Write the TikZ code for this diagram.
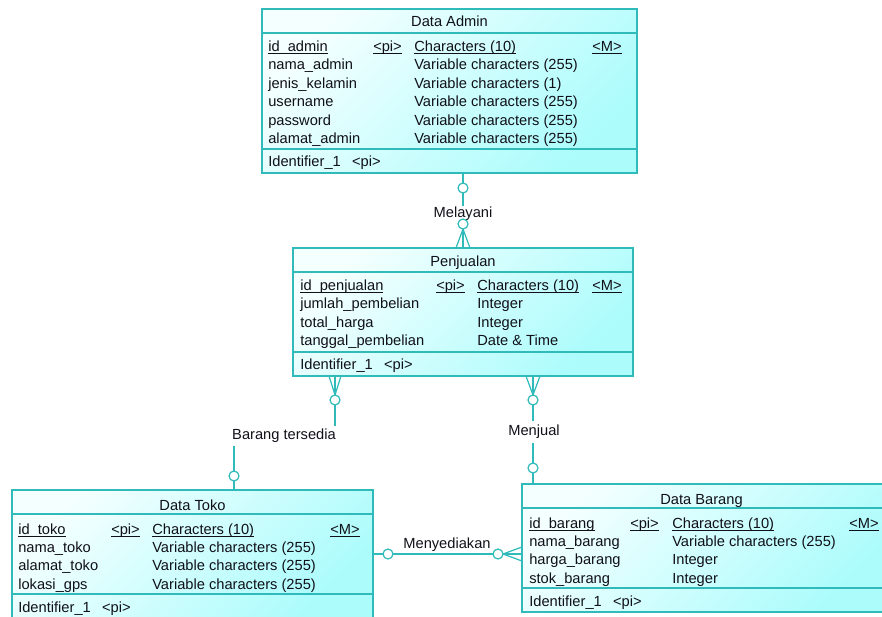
\documentclass[tikz,border=0pt]{standalone}
\usepackage{fontspec}
\setmainfont{Liberation Sans}

\newlength\pxu
\setlength\pxu{0.75pt}
\definecolor{entline}{RGB}{48,186,186}
\definecolor{enttop}{RGB}{244,255,255}
\definecolor{entbot}{RGB}{172,252,252}
\definecolor{enttext}{RGB}{16,16,24}
\newcommand\pk[1]{\underline{\smash{#1}}}

\begin{document}
\begin{tikzpicture}[x=0.75pt,y=-0.75pt,
	entity/.style={shape=rectangle,draw=entline,line width=1pt,inner sep=0pt,top color=enttop,bottom color=entbot,shading angle=45},
	sepline/.style={draw=entline,line width=1pt},
	conn/.style={draw=entline,line width=0.9pt},
	knob/.style={draw=entline,line width=0.9pt,fill=white},
	attr/.style={anchor=base west,inner sep=0pt},
	title/.style={anchor=base,inner sep=0pt},
	rel/.style={inner xsep=0pt,inner ysep=1pt},
	every node/.style={font=\fontsize{11pt}{13pt}\selectfont,text=enttext}]
	\useasboundingbox (0,0) rectangle (882,617);
	\clip (0,0) rectangle (882,617);

	\draw (449.5,91) node (admin) [entity,minimum width=375\pxu,minimum height=164\pxu] {};
	\draw (463,312) node (penjualan) [entity,minimum width=340\pxu,minimum height=128\pxu] {};
	\draw (192.5,554) node (toko) [entity,minimum width=361\pxu,minimum height=128\pxu] {};
	\draw (706,548) node (barang) [entity,minimum width=368\pxu,minimum height=128\pxu] {};

	\draw [sepline] (admin.west |- 0,33) -- (admin.east |- 0,33);
	\draw [sepline] (admin.west |- 0,149) -- (admin.east |- 0,149);
	\draw [sepline] (penjualan.west |- 0,272) -- (penjualan.east |- 0,272);
	\draw [sepline] (penjualan.west |- 0,352) -- (penjualan.east |- 0,352);
	\draw [sepline] (toko.west |- 0,514) -- (toko.east |- 0,514);
	\draw [sepline] (toko.west |- 0,594) -- (toko.east |- 0,594);
	\draw [sepline] (barang.west |- 0,508) -- (barang.east |- 0,508);
	\draw [sepline] (barang.west |- 0,588) -- (barang.east |- 0,588);

	\draw (449.5,26.5) node (admin-t) [title] {Data Admin};
	\draw (268,51.5) node (admin-k) [attr] {\pk{id\_admin}}
		(373,51.5) node (admin-kp) [attr] {\pk{<pi>}}
		(414,51.5) node (admin-kt) [attr] {\pk{Characters (10)}}
		(592,51.5) node (admin-km) [attr] {\pk{<M>}};
	\foreach \n/\t [count=\i] in {nama\_admin/Variable characters (255),jenis\_kelamin/Variable characters (1),username/Variable characters (255),password/Variable characters (255),alamat\_admin/Variable characters (255)} {
		\draw (268,51.5+18.4*\i) node (admin-a\i) [attr] {\n}
			(414,51.5+18.4*\i) node (admin-b\i) [attr] {\t};
	}
	\draw (268,166.5) node (admin-id) [attr] {Identifier\_1\hspace{8.5pt}<pi>};

	\draw (463,266.5) node (penjualan-t) [title] {Penjualan};
	\draw (300,290.5) node (penjualan-k) [attr] {\pk{id\_penjualan}}
		(436,290.5) node (penjualan-kp) [attr] {\pk{<pi>}}
		(477,290.5) node (penjualan-kt) [attr] {\pk{Characters (10)}}
		(592,290.5) node (penjualan-km) [attr] {\pk{<M>}};
	\foreach \n/\t [count=\i] in {jumlah\_pembelian/Integer,total\_harga/Integer,tanggal\_pembelian/Date \& Time} {
		\draw (300,290.5+18.4*\i) node (penjualan-a\i) [attr] {\n}
			(477,290.5+18.4*\i) node (penjualan-b\i) [attr] {\t};
	}
	\draw (300,369.5) node (penjualan-id) [attr] {Identifier\_1\hspace{8.5pt}<pi>};

	\draw (192.5,510) node (toko-t) [title] {Data Toko};
	\draw (18,534) node (toko-k) [attr] {\pk{id\_toko}}
		(111,534) node (toko-kp) [attr] {\pk{<pi>}}
		(152,534) node (toko-kt) [attr] {\pk{Characters (10)}}
		(330,534) node (toko-km) [attr] {\pk{<M>}};
	\foreach \n/\t [count=\i] in {nama\_toko/Variable characters (255),alamat\_toko/Variable characters (255),lokasi\_gps/Variable characters (255)} {
		\draw (18,534+18.4*\i) node (toko-a\i) [attr] {\n}
			(152,534+18.4*\i) node (toko-b\i) [attr] {\t};
	}
	\draw (18,612) node (toko-id) [attr] {Identifier\_1\hspace{8.5pt}<pi>};

	\draw (701.5,504) node (barang-t) [title] {Data Barang};
	\draw (529,528) node (barang-k) [attr] {\pk{id\_barang}}
		(630,528) node (barang-kp) [attr] {\pk{<pi>}}
		(672,528) node (barang-kt) [attr] {\pk{Characters (10)}}
		(849,528) node (barang-km) [attr] {\pk{<M>}};
	\foreach \n/\t [count=\i] in {nama\_barang/Variable characters (255),harga\_barang/Integer,stok\_barang/Integer} {
		\draw (529,528+18.4*\i) node (barang-a\i) [attr] {\n}
			(672,528+18.4*\i) node (barang-b\i) [attr] {\t};
	}
	\draw (529,606) node (barang-id) [attr] {Identifier\_1\hspace{8.5pt}<pi>};

	\draw (463,213.5) node (mel) [rel,inner ysep=0.6pt] {Melayani};
	\draw (284,436) node (bt) [rel,inner ysep=2.3pt] {Barang tersedia};
	\draw (534,432) node (mj) [rel,inner ysep=3pt] {Menjual};
	\draw (447,544.5) node (mny) [rel] {Menyediakan};
	\coordinate (bt-p) at (335,434);
	\coordinate (bt-t) at (234,434);
	\coordinate (mj-x) at (533,430);
	\coordinate (mny-y) at (447,554);

	\draw [conn] (admin.south -| mel) -- (mel.north);
	\draw [conn] (mel.south) -- (penjualan.north);
	\draw [knob] (463,188) circle [radius=5];
	\draw [knob] (463,224) circle [radius=5];
	\foreach \d in {-7,0,7}
		\draw [conn] (463,229) -- (463+\d,248);

	\draw [conn] (penjualan.south -| bt-p) -- (bt.north -| bt-p);
	\draw [conn] (bt.south -| bt-t) -- (toko.north -| bt-t);
	\draw [knob] (335,400) circle [radius=5];
	\draw [knob] (234,476) circle [radius=5];
	\foreach \d in {-6,0,6}
		\draw [conn] (335,395) -- (335+\d,376);

	\draw [conn] (penjualan.south -| mj-x) -- (mj.north -| mj-x);
	\draw [conn] (mj.south -| mj-x) -- (barang.north -| mj-x);
	\draw [knob] (533,400) circle [radius=5];
	\draw [knob] (533,468) circle [radius=5];
	\foreach \d in {-7,0,7}
		\draw [conn] (533,395) -- (533+\d,376);

	\draw [conn] (toko.east |- mny-y) -- (barang.west |- mny-y);
	\draw [knob] (388,554) circle [radius=5];
	\draw [knob] (498,554) circle [radius=5];
	\foreach \d in {-7,0,7}
		\draw [conn] (503,554) -- (522,554+\d);
\end{tikzpicture}
\end{document}
